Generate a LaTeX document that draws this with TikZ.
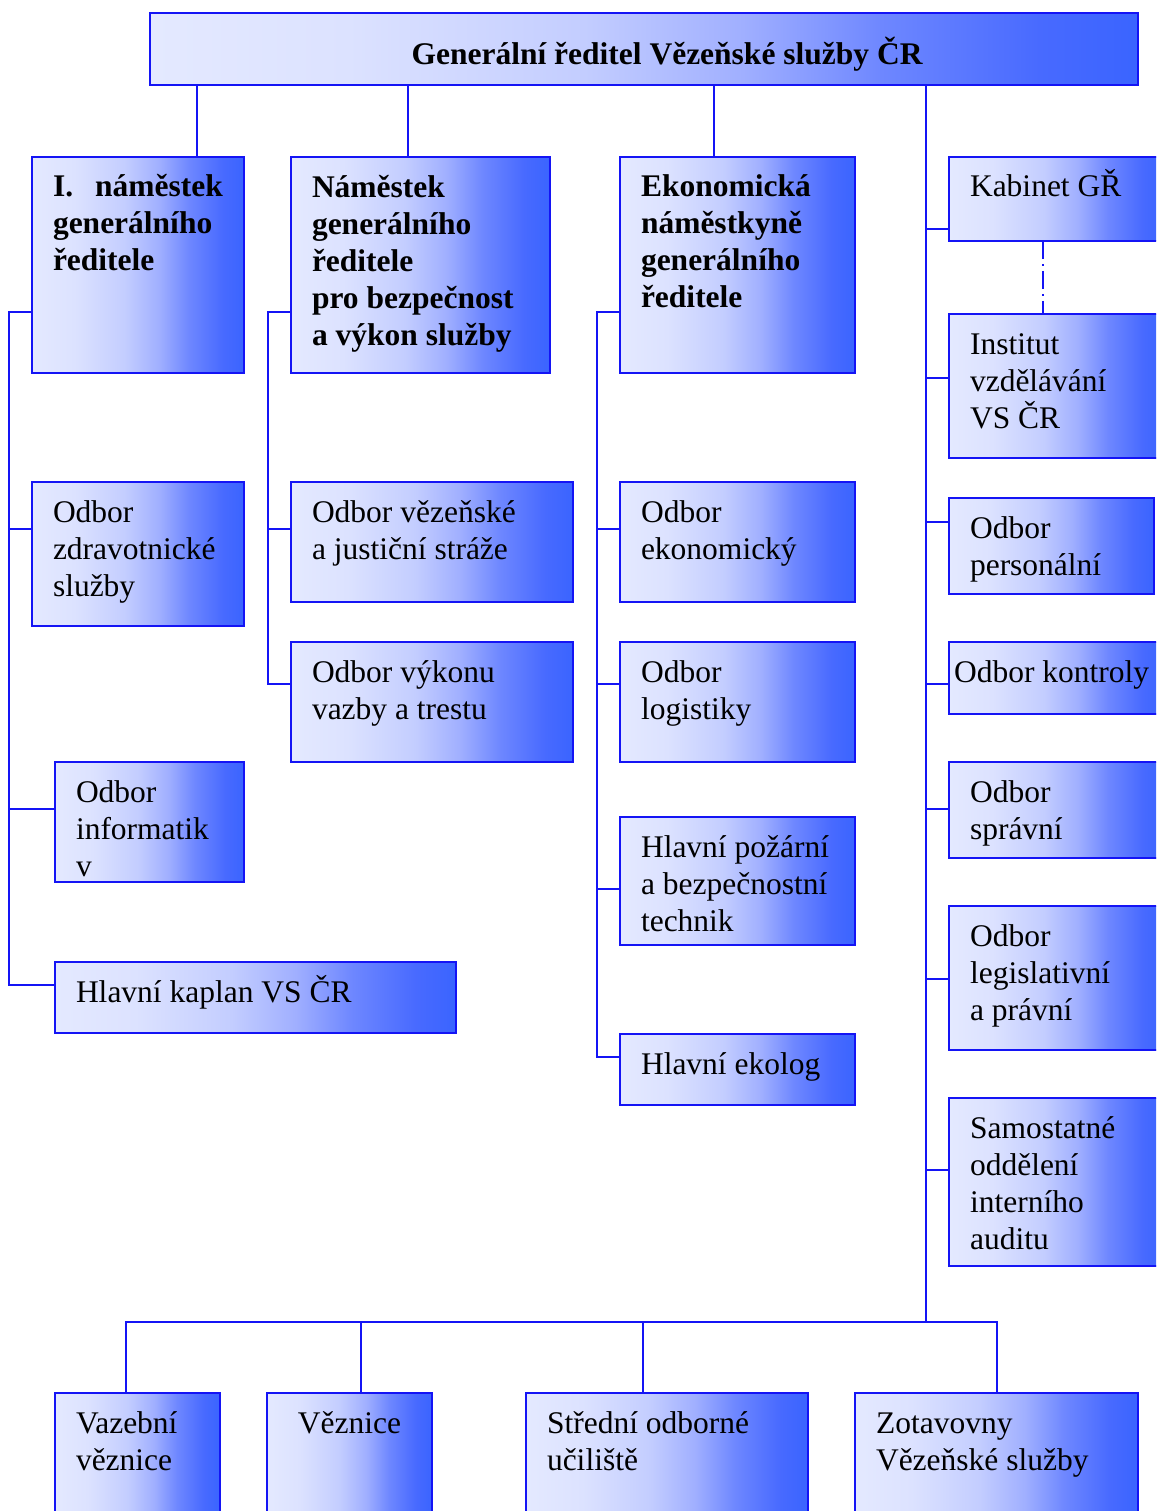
\documentclass[tikz,border=0pt]{standalone}
\usepackage{fontspec}
\setmainfont{Liberation Serif}
\definecolor{bordblue}{RGB}{20,20,245}
\definecolor{ga}{RGB}{228,233,255}
\definecolor{gb}{RGB}{220,226,255}
\definecolor{gc}{RGB}{195,205,255}
\definecolor{gd}{RGB}{160,175,255}
\definecolor{ge}{RGB}{110,135,255}
\definecolor{gf}{RGB}{72,106,255}
\definecolor{gg}{RGB}{58,100,255}
\pgfdeclarehorizontalshading{boxgrad}{100bp}{color(0bp)=(ga); color(25bp)=(ga); color(35bp)=(gb); color(47bp)=(gc); color(55bp)=(gd); color(62bp)=(ge); color(70bp)=(gf); color(75bp)=(gg); color(100bp)=(gg)}
\tikzset{
  box/.style={draw=bordblue, line width=2pt, shading=boxgrad, rectangle, inner sep=0pt, outer sep=0pt, anchor=north west},
  txt/.style={inner sep=0pt, outer sep=0pt, anchor=north west, align=left, font=\fontsize{31.5}{37}\selectfont},
  btxt/.style={txt, font=\fontsize{31.5}{37}\selectfont\bfseries},
  conn/.style={draw=bordblue, line width=2pt},
}
\newcommand\mybox[6]{%
  \node[box, minimum width=#4pt, minimum height=#5pt] (#1) at (#2,#3) {};
  \node[txt] (#1t) at ([xshift=21pt,yshift=-10pt]#1.north west) {\rule{0pt}{30pt}#6};}
\newcommand\myboxb[6]{%
  \node[box, minimum width=#4pt, minimum height=#5pt] (#1) at (#2,#3) {};
  \node[btxt] (#1t) at ([xshift=21pt,yshift=-10pt]#1.north west) {\rule{0pt}{30pt}#6};}
\begin{document}
\begin{tikzpicture}[x=1pt,y=-1pt]
\useasboundingbox (0,0) rectangle (1156,1511);
\clip (0,0) rectangle (1156,1511);
% title
\node[box, minimum width=988pt, minimum height=72pt] (title) at (150,13) {};
\node[btxt, anchor=base] (titlet) at (667,65) {Generální ředitel Vězeňské služby ČR};
% column 1
\myboxb{na}{32}{157}{212}{216}{I.\hspace*{22pt}náměstek\\generálního\\ředitele}
\mybox{zdrav}{32}{482}{212}{144}{Odbor\\zdravotnické\\služby}
\mybox{inf}{55}{762}{189}{120}{Odbor\\informatik\\v}
\mybox{kaplan}{55}{962}{401}{71}{Hlavní kaplan VS ČR}
% column 2
\myboxb{nb}{291}{157}{259}{216}{Náměstek\\generálního\\ředitele\\pro bezpečnost\\a výkon služby}
\mybox{straz}{291}{482}{282}{120}{Odbor vězeňské\\a justiční stráže}
\mybox{vazby}{291}{642}{282}{120}{Odbor výkonu\\vazby a trestu}
% column 3
\myboxb{nc}{620}{157}{235}{216}{Ekonomická\\náměstkyně\\generálního\\ředitele}
\mybox{ekon}{620}{482}{235}{120}{Odbor\\ekonomický}
\mybox{logi}{620}{642}{235}{120}{Odbor\\logistiky}
\mybox{pozar}{620}{817}{235}{128}{Hlavní požární\\a bezpečnostní\\technik}
\mybox{ekolog}{620}{1034}{235}{71}{Hlavní ekolog}
% column 4
\mybox{kab}{949}{157}{215}{84}{Kabinet GŘ}
\mybox{inst}{949}{314}{215}{144}{Institut\\vzdělávání\\VS ČR}
\mybox{pers}{949}{498}{205}{96}{Odbor\\personální}
\node[box, minimum width=215pt, minimum height=72pt] (kontr) at (949,642) {};
\node[txt] (kontrt) at ([xshift=5pt,yshift=-10pt]kontr.north west) {\rule{0pt}{30pt}Odbor kontroly};
\mybox{sprav}{949}{762}{215}{96}{Odbor\\správní}
\mybox{legis}{949}{906}{215}{144}{Odbor\\legislativní\\a právní}
\mybox{audit}{949}{1098}{215}{168}{Samostatné\\oddělení\\interního\\auditu}
% bottom row
\mybox{vaz}{55}{1393}{165}{140}{Vazební\\věznice}
\node[box, minimum width=165pt, minimum height=140pt] (vez) at (267,1393) {};
\node[txt, anchor=north] (vezt) at ([yshift=-10pt]vez.north) {\rule{0pt}{30pt}Věznice};
\mybox{stred}{526}{1393}{282}{140}{Střední odborné\\učiliště}
\mybox{zot}{855}{1393}{283}{140}{Zotavovny\\Vězeňské služby}
% coordinates
\coordinate (xa) at (197,0);
\coordinate (xb) at (408,0);
\coordinate (xc) at (714,0);
\coordinate (xd) at (926,0);
\coordinate (b1) at (9,0);
\coordinate (b2) at (268,0);
\coordinate (b3) at (597,0);
\coordinate (yb) at (0,1322);
\coordinate (xv) at (126,0);
\coordinate (xz) at (361,0);
\coordinate (xs) at (643,0);
\coordinate (xo) at (997,0);
\coordinate (xk) at (1043,0);
\coordinate (pa) at ([yshift=-47pt]na.west);
\coordinate (pb) at ([yshift=-47pt]nb.west);
\coordinate (pc) at ([yshift=-47pt]nc.west);
\coordinate (ka) at ([yshift=-23pt]kaplan.north west);
\coordinate (va) at ([yshift=-42pt]vazby.north west);
\coordinate (ea) at ([yshift=-23pt]ekolog.north west);
% top connectors
\draw[conn] (title.south -| xa) -- (na.north -| xa);
\draw[conn] (title.south -| xb) -- (nb.north -| xb);
\draw[conn] (title.south -| xc) -- (nc.north -| xc);
\draw[conn] (title.south -| xd) -- (yb -| xd);
% column 1 bus
\draw[conn] (pa) -- (pa -| b1) -- (ka -| b1) -- (ka);
\draw[conn] (zdrav.west |- 0,529) -- (b1 |- 0,529);
\draw[conn] (inf.west |- 0,809) -- (b1 |- 0,809);
% column 2 bus
\draw[conn] (pb) -- (pb -| b2) -- (va -| b2) -- (va);
\draw[conn] (straz.west |- 0,529) -- (b2 |- 0,529);
% column 3 bus
\draw[conn] (pc) -- (pc -| b3) -- (ea -| b3) -- (ea);
\draw[conn] (ekon.west |- 0,529) -- (b3 |- 0,529);
\draw[conn] (logi.west |- 0,684) -- (b3 |- 0,684);
\draw[conn] (pozar.west |- 0,889) -- (b3 |- 0,889);
% column 4 branches
\draw[conn] (kab.west |- 0,229) -- (xd |- 0,229);
\draw[conn] (inst.west |- 0,378) -- (xd |- 0,378);
\draw[conn] (pers.west |- 0,522) -- (xd |- 0,522);
\draw[conn] (kontr.west |- 0,684) -- (xd |- 0,684);
\draw[conn] (sprav.west |- 0,809) -- (xd |- 0,809);
\draw[conn] (legis.west |- 0,979) -- (xd |- 0,979);
\draw[conn] (audit.west |- 0,1170) -- (xd |- 0,1170);
\draw[conn, dash pattern=on 18pt off 5pt on 2pt off 5pt] (kab.south -| xk) -- (inst.north -| xk);
% bottom bus
\draw[conn] (vaz.north -| xv) -- (yb -| xv) -- (yb -| xo) -- (zot.north -| xo);
\draw[conn] (yb -| xz) -- (vez.north -| xz);
\draw[conn] (yb -| xs) -- (stred.north -| xs);
\end{tikzpicture}
\end{document}
